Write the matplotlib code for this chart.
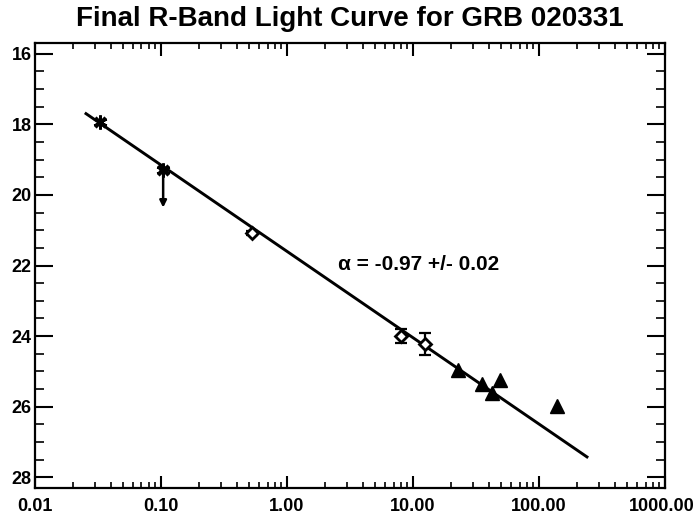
import matplotlib
matplotlib.use("Agg")
import matplotlib.pyplot as plt
from matplotlib.ticker import FixedLocator, NullFormatter, MultipleLocator, FuncFormatter
from matplotlib.transforms import ScaledTranslation

plt.rcParams['font.family'] = ['Liberation Sans', 'DejaVu Sans']
plt.rcParams['font.weight'] = 'bold'

# =========================
# DATA (days since burst, R magnitude)
# =========================
star_t = [0.0328, 0.104]
star_mag = [17.93, 19.29]
star_err = [0.05, 0.0]

limit_t = [0.104]
limit_from = [19.29]
limit_to = [20.36]

diam_t = [0.527, 8.03, 12.4]
diam_mag = [21.08, 24.0, 24.22]
diam_err = [0.05, 0.2, 0.3]

tri_t = [22.7, 35.3, 42.4, 49.0, 139.0]
tri_mag = [24.95, 25.36, 25.6, 25.24, 25.98]

fit_t = [0.0254, 240.0]
fit_mag = [17.70, 27.42]

fit_label = "α = -0.97 +/- 0.02"
x_ticks = [0.01, 0.1, 1, 10, 100, 1000]

fig = plt.figure(figsize=(6.97, 5.17), dpi=100)
ax = fig.add_axes([0.0502, 0.0561, 0.904, 0.8607])

ax.set_xscale("log")
ax.set_xlim(0.01, 1000)
ax.set_ylim(28.3, 15.7)

# power-law fit
ax.plot(fit_t, fit_mag, color="black", lw=2.1, zorder=2)

# early points (asterisks) + upper limit arrow
ax.errorbar(star_t, star_mag, yerr=star_err, fmt="none", ecolor="black",
            elinewidth=1.5, capsize=3, zorder=3)
ax.plot(star_t, star_mag, linestyle="none", marker=(6, 2, 0), ms=10,
        mec="black", mew=2, zorder=4)
ax.plot(star_t, star_mag, linestyle="none", marker="x", ms=7,
        mec="black", mew=2.2, zorder=4)

for t, m0, m1 in zip(limit_t, limit_from, limit_to):
    ax.annotate("", xy=(t, m1), xytext=(t, m0),
                arrowprops=dict(arrowstyle="-|>", color="black", lw=1.8,
                                mutation_scale=10, shrinkA=0, shrinkB=0))

# diamonds
ax.errorbar(diam_t, diam_mag, yerr=diam_err, fmt="none", ecolor="black",
            elinewidth=1.6, capsize=4, capthick=1.6, zorder=3)
ax.plot(diam_t, diam_mag, linestyle="none", marker="D", ms=6,
        mfc="white", mec="black", mew=2, zorder=4)

# triangles
ax.plot(tri_t, tri_mag, linestyle="none", marker="^", ms=10,
        mfc="black", mec="black", zorder=4)

ax.text(2.55, 21.98, fit_label, fontsize=15, fontweight="bold",
        ha="left", va="center")

ax.set_title("Final R-Band Light Curve for GRB 020331", fontsize=20,
             fontweight="bold", pad=12)

# ticks
ax.xaxis.set_major_locator(FixedLocator(x_ticks))
minors = [d * k for d in [0.01, 0.1, 1, 10, 100] for k in range(2, 10)]
ax.xaxis.set_minor_locator(FixedLocator(minors))
ax.xaxis.set_minor_formatter(NullFormatter())
ax.xaxis.set_major_formatter(FuncFormatter(lambda v, p: f"{v:.2f}"))
ax.yaxis.set_major_locator(MultipleLocator(2))
ax.yaxis.set_minor_locator(MultipleLocator(0.5))

ax.tick_params(axis="x", which="major", direction="in", length=9, width=1.5,
               top=True, labelsize=13, pad=7)
ax.tick_params(axis="x", which="minor", direction="in", length=4.5, width=1.2,
               top=True)
ax.tick_params(axis="y", which="major", direction="in", length=13, width=1.5,
               right=True, labelsize=13, pad=2.5)
ax.tick_params(axis="y", which="minor", direction="in", length=6.5, width=1.2,
               right=True)
for lab in ax.get_xticklabels() + ax.get_yticklabels():
    lab.set_fontweight("bold")
# keep the last x label inside the figure
last = ax.get_xticklabels()[-1]
last.set_horizontalalignment("right")
last.set_transform(last.get_transform() +
                   ScaledTranslation(30 / 100, 0, fig.dpi_scale_trans))
for s in ax.spines.values():
    s.set_linewidth(1.6)

plt.savefig("out.png", dpi=100)
plt.close()
